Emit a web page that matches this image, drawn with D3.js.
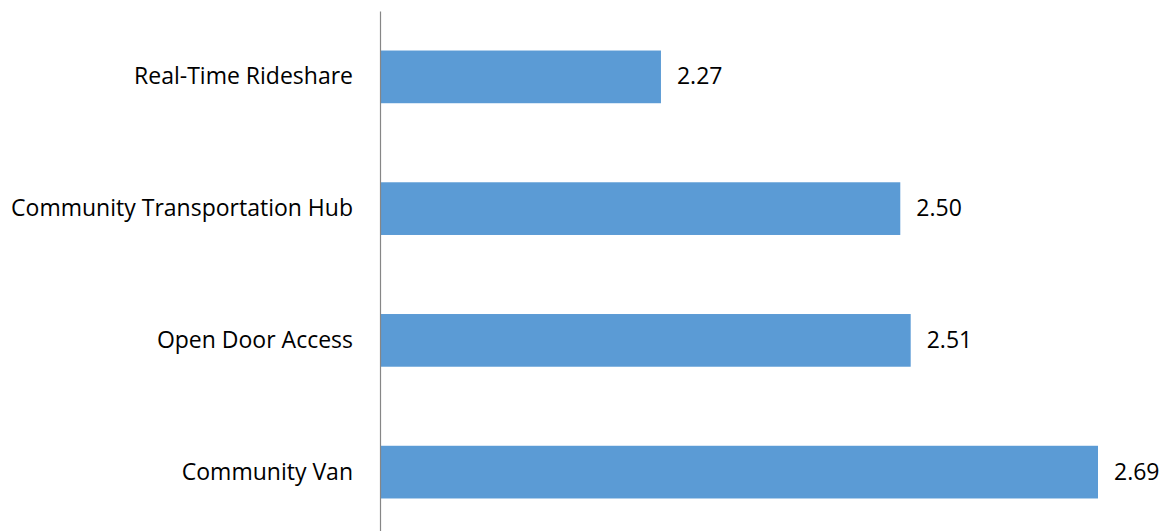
<!DOCTYPE html>
<html>
<head>
<meta charset="utf-8">
<script src="https://cdn.jsdelivr.net/npm/d3@7"></script>
<style>
  body { margin: 0; background: #fff; }
  svg text { font-family: "Open Sans", "Liberation Sans", Arial, sans-serif; fill: #000; }
</style>
</head>
<body>
<svg id="chart" width="1166" height="531"></svg>
<script>
const categories = ["Real-Time Rideshare", "Community Transportation Hub", "Open Door Access", "Community Van"];
const values = [2.27, 2.50, 2.51, 2.69];
const xDomain = [2.0, 2.7];

const svg = d3.select("#chart");
const plot = { left: 380, right: 1108.4, top: 11, bottom: 538 };
const fontSize = "23px";

const x = d3.scaleLinear().domain(xDomain).range([plot.left, plot.right]);
const y = d3.scaleBand().domain(categories).range([plot.top, plot.bottom])
  .paddingInner(0.6).paddingOuter(0.3);

const data = categories.map((c, i) => ({ name: c, value: values[i] }));

svg.selectAll("rect.bar").data(data).join("rect")
  .attr("class", "bar")
  .attr("x", x(xDomain[0]))
  .attr("y", d => y(d.name))
  .attr("width", d => x(d.value) - x(xDomain[0]))
  .attr("height", y.bandwidth())
  .attr("fill", "#5B9BD5");

svg.selectAll("text.val").data(data).join("text")
  .attr("class", "val")
  .attr("x", d => x(d.value) + 16)
  .attr("y", d => y(d.name) + y.bandwidth() / 2)
  .attr("dy", "0.33em")
  .style("font-size", fontSize)
  .text(d => d.value.toFixed(2));

const axis = svg.append("g")
  .attr("transform", `translate(${plot.left},0)`)
  .call(d3.axisLeft(y).tickSize(0).tickPadding(27));
axis.select(".domain").attr("stroke", "#868686").attr("stroke-width", 1.2);
axis.selectAll(".tick text").style("font-size", fontSize).attr("fill", "#000").attr("dy", "0.33em");
</script>
</body>
</html>
